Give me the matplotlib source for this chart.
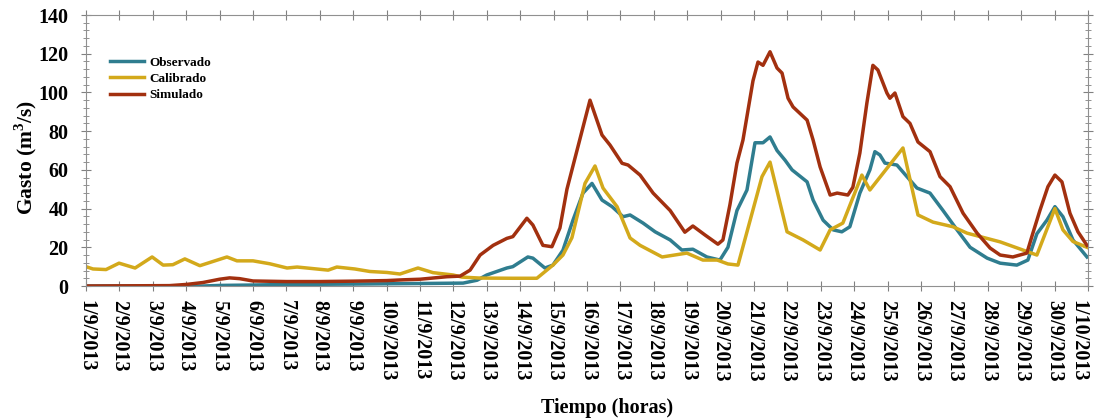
import matplotlib
matplotlib.use("Agg")
import matplotlib.pyplot as plt
from matplotlib.ticker import MultipleLocator

plt.rcParams["font.family"] = ["Liberation Serif", "DejaVu Serif"]
plt.rcParams["font.weight"] = "bold"
plt.rcParams["mathtext.fontset"] = "custom"
plt.rcParams["mathtext.rm"] = "Liberation Serif:bold"
plt.rcParams["mathtext.bf"] = "Liberation Serif:bold"

# x values are days counted from 1/9/2013 00:00
obs_days = [0, 3.5, 4, 5, 6, 8, 10, 11.29, 11.71, 12.0, 12.6, 12.78, 13.23, 13.38, 13.74, 13.98,
            14.28, 14.58, 14.88, 15.15, 15.45, 15.75, 16.08, 16.29, 16.68, 17.04, 17.49, 17.84,
            18.17, 18.59, 18.98, 19.22, 19.49, 19.79, 20.03, 20.27, 20.48, 20.69, 20.93, 21.14,
            21.59, 21.77, 22.07, 22.37, 22.63, 22.87, 23.17, 23.47, 23.62, 23.77, 23.92, 24.28,
            24.58, 24.88, 25.27, 25.66, 26.08, 26.47, 26.98, 27.37, 27.87, 28.2, 28.47, 28.77,
            29.01, 29.25, 29.55, 29.97]
obs_vals = [0, 0, 0.3, 0.5, 0.8, 1, 1.3, 1.5, 3, 5.7, 9.3, 10, 15, 14.4, 9.3, 10.8,
            18.5, 34, 48, 53, 44.4, 41, 35.8, 36.7, 32.5, 28, 23.8, 18.6,
            19, 15, 13.4, 20, 39, 49.6, 74, 74, 77, 70, 65, 60,
            53.8, 44.4, 34, 29, 28, 30.6, 48, 60, 69.4, 67.7, 63.5, 62.5,
            56.5, 50.6, 48, 39, 29, 20, 14.4, 11.8, 10.8, 13.4, 27, 34,
            41, 35.8, 23.8, 15]

cal_days = [0, 0.21, 0.6, 0.99, 1.47, 1.98, 2.31, 2.6, 2.96, 3.41, 4.22, 4.52, 5.0, 5.5, 6.02,
            6.32, 6.5, 7.25, 7.51, 8.05, 8.5, 9.01, 9.4, 9.94, 10.39, 10.99, 11.26, 11.8, 12.78,
            13.5, 13.98, 14.28, 14.55, 14.94, 15.24, 15.48, 15.9, 16.29, 16.59, 17.25, 17.99,
            18.47, 18.9, 19.22, 19.52, 20.24, 20.48, 20.99, 21.47, 21.98, 22.28, 22.66, 23.23,
            23.47, 24.46, 24.91, 25.36, 25.96, 26.38, 27.37, 28.47, 29.01, 29.25, 29.55, 29.97]
cal_vals = [10, 8.8, 8.5, 11.8, 9.3, 15, 10.8, 11, 14, 10.5, 15, 13, 13, 11.5, 9.3,
            9.8, 9.5, 8.2, 9.8, 8.8, 7.5, 7, 6.2, 9.3, 6.9, 5.7, 4.6, 4.1, 4,
            4, 10.8, 16, 25, 53, 62, 50.6, 41, 24.8, 21, 15, 17,
            13.4, 13.4, 11.4, 10.8, 56.5, 64, 28, 23.8, 18.6, 29, 32.5, 57.3,
            49.6, 71.3, 36.7, 33, 30.6, 27.3, 22.8, 16, 40, 29, 23, 20]

sim_days = [0, 2.5, 3, 3.5, 4.0, 4.3, 4.6, 5.0, 6, 7, 8, 9, 9.5, 10, 10.81, 11.2, 11.5, 11.8,
            12.19, 12.6, 12.78, 13.2, 13.38, 13.68, 13.95, 14.19, 14.4, 14.7, 15.09, 15.45,
            15.69, 16.05, 16.23, 16.59, 16.98, 17.49, 17.93, 18.17, 18.53, 18.92, 19.07, 19.28,
            19.49, 19.67, 19.97, 20.12, 20.27, 20.48, 20.69, 20.84, 21.02, 21.17, 21.59, 21.77,
            21.98, 22.28, 22.49, 22.81, 22.96, 23.17, 23.38, 23.56, 23.71, 23.98, 24.07, 24.22,
            24.46, 24.67, 24.91, 25.27, 25.57, 25.87, 26.26, 26.68, 27.07, 27.37, 27.75, 28.17,
            28.35, 28.56, 28.8, 29.01, 29.22, 29.46, 29.7, 29.97]
sim_vals = [0, 0.2, 0.8, 1.8, 3.5, 4.2, 3.8, 2.6, 2.3, 2.3, 2.5, 2.8, 3.2, 3.5, 4.8, 5.1, 8.2, 16,
            21, 24.6, 25.5, 35, 31.5, 21, 20.3, 30, 50, 70, 96, 78,
            72.8, 63.4, 62.5, 57.3, 48, 39, 27.8, 31, 26.4, 21.6, 23.8, 42,
            63.5, 75.4, 106, 115.7, 114, 121, 112.6, 110, 97, 92.5, 85.7, 75.4,
            61.5, 47, 48, 47, 51, 68.7, 94.5, 114, 111.6, 99.7, 97, 99.7,
            87.5, 84, 74.4, 69.4, 56.5, 51.3, 37.6, 27.3, 19.6, 16, 15, 17,
            27.3, 39, 51.3, 57.3, 53.8, 37.6, 28, 21]

date_labels = [f"{d}/9/2013" for d in range(1, 31)] + ["1/10/2013"]

fig = plt.figure(figsize=(10.94, 4.19), dpi=100)
ax = fig.add_axes([0.0786, 0.3174, 0.9159, 0.6468])

ax.plot(obs_days, obs_vals, color="#2f7d8f", lw=2.5, label="Observado")
ax.plot(cal_days, cal_vals, color="#d3a91b", lw=2.5, label="Calibrado")
ax.plot(sim_days, sim_vals, color="#a2300f", lw=2.5, label="Simulado")

ax.set_xlim(0, 30)
ax.set_ylim(0, 140)
ax.set_xticks(range(len(date_labels)))
ax.set_xticklabels(date_labels, rotation=-90, fontsize=14.5, fontweight="bold")
# keep the last date inside the figure
ax.get_xticklabels()[-1].set_horizontalalignment("right")

ax.yaxis.set_major_locator(MultipleLocator(20))
ax.yaxis.set_minor_locator(MultipleLocator(4))
for lab in ax.get_yticklabels():
    lab.set_fontsize(14.5)
    lab.set_fontweight("bold")

ax.tick_params(axis="both", which="both", direction="inout", colors="#808080",
               top=True, right=True, labelcolor="black")
ax.tick_params(axis="x", length=7, pad=6.5)
ax.tick_params(axis="y", which="major", length=7, pad=9)
ax.tick_params(axis="y", which="minor", length=5)
for s in ax.spines.values():
    s.set_color("#909090")

ax.set_ylabel(r"Gasto (m$^{\mathbf{3}}$/s)", fontsize=15.5, fontweight="bold")
ax.yaxis.set_label_coords(-0.047, 0.476)
ax.set_xlabel("Tiempo (horas)", fontsize=14.5, fontweight="bold")
ax.xaxis.set_label_coords(0.52, -0.415)

ax.legend(loc="upper left", bbox_to_anchor=(0.012, 0.89), frameon=False,
          prop={"size": 9.5, "weight": "bold"}, handlelength=2.6, labelspacing=0.3,
          handletextpad=0.4)

fig.savefig("out.png", dpi=100)
